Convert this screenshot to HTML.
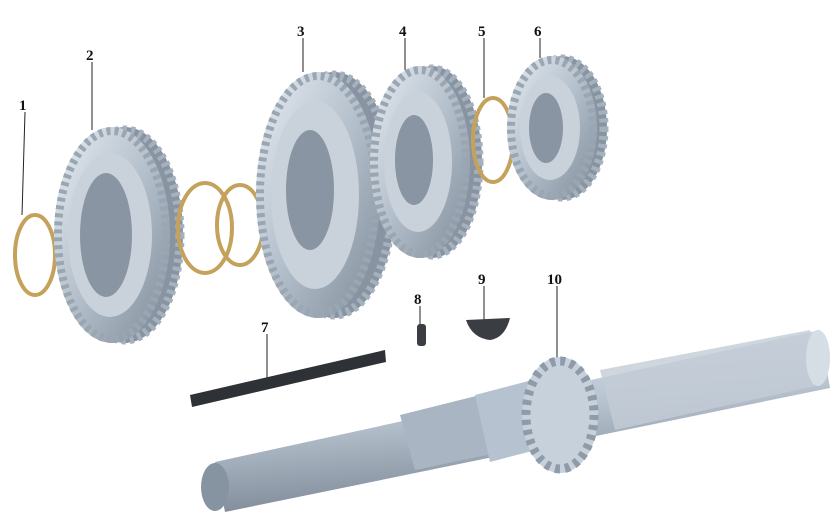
<!DOCTYPE html>
<html><head><style>html,body{margin:0;padding:0;background:#fff;width:835px;height:527px;overflow:hidden}
text{font-family:"Liberation Serif",serif;font-weight:bold;font-size:15px;fill:#111}</style></head>
<body>
<svg width="835" height="527" viewBox="0 0 835 527" xmlns="http://www.w3.org/2000/svg">
<defs>
<linearGradient id="g" x1="0" y1="0" x2="1" y2="1"><stop offset="0" stop-color="#e6ecf2"/><stop offset="0.5" stop-color="#b3bfcb"/><stop offset="1" stop-color="#7f8c99"/></linearGradient>
<linearGradient id="s" x1="0" y1="0" x2="0.25" y2="1"><stop offset="0" stop-color="#dfe6ee"/><stop offset="0.5" stop-color="#b9c5d1"/><stop offset="1" stop-color="#7d8996"/></linearGradient>
</defs>
<g stroke="#222" stroke-width="1">
<line x1="25" y1="112" x2="22" y2="215"/><line x1="92" y1="62" x2="92" y2="130"/>
<line x1="303" y1="38" x2="303" y2="72"/><line x1="405" y1="38" x2="405" y2="70"/>
<line x1="484" y1="38" x2="484" y2="98"/><line x1="540" y1="38" x2="540" y2="58"/>
<line x1="267" y1="334" x2="267" y2="378"/><line x1="420" y1="306" x2="420" y2="325"/>
<line x1="484" y1="286" x2="484" y2="320"/><line x1="557" y1="286" x2="557" y2="362"/>
</g>
<text x="19" y="110">1</text><text x="86" y="60">2</text><text x="297" y="36">3</text><text x="399" y="36">4</text><text x="478" y="36">5</text><text x="534" y="36">6</text><text x="261" y="332">7</text><text x="414" y="304">8</text><text x="478" y="284">9</text><text x="547" y="284">10</text>
<ellipse cx="35" cy="255" rx="20" ry="40" fill="none" stroke="#c4a25c" stroke-width="4"/>
<!-- gear 2 -->
<ellipse cx="125" cy="235" rx="58" ry="108" fill="#8894a1"/>
<ellipse cx="125" cy="235" rx="55" ry="105" fill="none" stroke="#a5b1bd" stroke-width="9" stroke-dasharray="4 4"/>
<ellipse cx="112" cy="235" rx="58" ry="108" fill="url(#g)"/>
<ellipse cx="112" cy="235" rx="54" ry="104" fill="none" stroke="#9aa6b2" stroke-width="8" stroke-dasharray="4 4"/>
<ellipse cx="110" cy="235" rx="42" ry="82" fill="#c9d2db"/>
<ellipse cx="106" cy="235" rx="26" ry="62" fill="#8995a2"/>
<ellipse cx="205" cy="228" rx="27" ry="45" fill="none" stroke="#c4a25c" stroke-width="4"/>
<ellipse cx="240" cy="225" rx="23" ry="40" fill="none" stroke="#c4a25c" stroke-width="4"/>
<!-- gear 3 -->
<ellipse cx="334" cy="195" rx="62" ry="123" fill="#8894a1"/>
<ellipse cx="334" cy="195" rx="59" ry="120" fill="none" stroke="#a5b1bd" stroke-width="9" stroke-dasharray="4 4"/>
<ellipse cx="318" cy="195" rx="62" ry="123" fill="url(#g)"/>
<ellipse cx="318" cy="195" rx="58" ry="119" fill="none" stroke="#9aa6b2" stroke-width="8" stroke-dasharray="4 4"/>
<ellipse cx="315" cy="195" rx="44" ry="94" fill="#c9d2db"/>
<ellipse cx="310" cy="190" rx="24" ry="60" fill="#8995a2"/>
<!-- gear 4 -->
<ellipse cx="432" cy="162" rx="50" ry="96" fill="#8894a1"/>
<ellipse cx="432" cy="162" rx="47" ry="93" fill="none" stroke="#a5b1bd" stroke-width="9" stroke-dasharray="4 4"/>
<ellipse cx="420" cy="162" rx="50" ry="96" fill="url(#g)"/>
<ellipse cx="420" cy="162" rx="46" ry="92" fill="none" stroke="#9aa6b2" stroke-width="8" stroke-dasharray="4 4"/>
<ellipse cx="418" cy="162" rx="34" ry="70" fill="#c9d2db"/>
<ellipse cx="414" cy="160" rx="19" ry="45" fill="#8995a2"/>
<ellipse cx="493" cy="140" rx="20" ry="42" fill="none" stroke="#c4a25c" stroke-width="4"/>
<!-- gear 6 -->
<ellipse cx="562" cy="128" rx="45" ry="72" fill="#8894a1"/>
<ellipse cx="562" cy="128" rx="42" ry="69" fill="none" stroke="#a5b1bd" stroke-width="9" stroke-dasharray="4 4"/>
<ellipse cx="552" cy="128" rx="45" ry="72" fill="url(#g)"/>
<ellipse cx="552" cy="128" rx="41" ry="68" fill="none" stroke="#9aa6b2" stroke-width="8" stroke-dasharray="4 4"/>
<ellipse cx="550" cy="128" rx="30" ry="52" fill="#c9d2db"/>
<ellipse cx="546" cy="128" rx="17" ry="35" fill="#8995a2"/>
<polygon points="190,395 385,350 386,362 192,407" fill="#2e3236"/>
<rect x="417" y="324" width="9" height="22" rx="3" fill="#3a3e42"/>
<path d="M466,320 L510,318 Q505,338 490,340 Q472,338 466,320 Z" fill="#3a3e42"/>
<!-- shaft -->
<polygon points="215,462 820,330 830,388 225,512" fill="url(#s)"/>
<polygon points="400,415 520,385 535,445 415,470" fill="#a9b5c2"/>
<polygon points="475,395 540,378 555,445 490,462" fill="#b6c2cf"/>
<ellipse cx="560" cy="415" rx="38" ry="58" fill="#c7d1db"/>
<ellipse cx="560" cy="415" rx="34" ry="54" fill="none" stroke="#8f9ba8" stroke-width="9" stroke-dasharray="5 5"/>
<polygon points="600,370 810,330 820,385 615,430" fill="#c3ccd6" opacity="0.8"/>
<ellipse cx="818" cy="358" rx="12" ry="28" fill="#d5dde5"/>
<ellipse cx="215" cy="487" rx="14" ry="24" fill="#8693a0"/>
</svg>
</body></html>
